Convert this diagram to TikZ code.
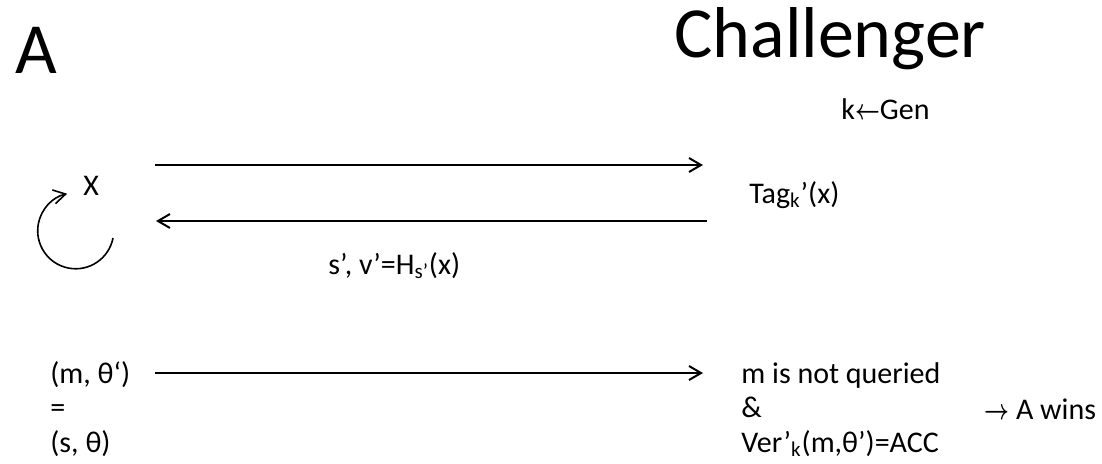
\documentclass[tikz,border=0pt]{standalone}
\usepackage{fontspec}
\usepackage{graphicx}
\setmainfont{Carlito}
\usetikzlibrary{arrows.meta, positioning}
\newcommand{\larr}{\scalebox{0.75}[1]{\boldmath$\leftarrow$}}
\newcommand{\rarr}{\scalebox{0.75}[1]{\boldmath$\rightarrow$}}

\begin{document}
\begin{tikzpicture}[
    x=0.5pt, y=-0.5pt,
    big/.style={inner sep=0pt, anchor=base west, font=\fontsize{36}{43}\selectfont},
    txt/.style={inner sep=0pt, anchor=base west, font=\fontsize{15}{17.25}\selectfont},
    msg/.style={->, line width=1pt},
    >={Straight Barb[length=6pt, width=7pt]}
]
    \useasboundingbox (0,0) rectangle (1102,463);
    % the two parties
    \node[big] (adv) at (15,73) {A};
    \node[big] (chal) at (674,57) {Challenger};
    \node[txt] (gen) at (841,119) {k\larr Gen};
    % query phase
    \node[txt] (x) at (83,195) {X};
    \node[txt] (tag) at (749,203) {Tag\textsubscript{k}’(x)};
    \node[txt] (hash) at (328,274) {s’, v’=H\textsubscript{s’}(x)};
    \coordinate (q1) at (155,165);
    \coordinate (q2) at (703,165);
    \coordinate (a1) at (707,221);
    \coordinate (a2) at (156,221);
    \coordinate (loop) at (113,238);
    \draw[msg] (q1) -- (q2);
    \draw[msg] (a1) -- (a2);
    \draw[->, line width=0.8pt] (loop) arc[start angle=-11, end angle=-257, radius=19pt];
    % forgery
    \node[txt] (forge) at (50,383) {(m, θ‘)};
    \node[txt] (eq) at ([yshift=-17.25pt]forge.base west) {=};
    \node[txt] (orig) at ([yshift=-17.25pt]eq.base west) {(s, θ)};
    \node[txt] (notq) at (741,383) {m is not queried};
    \node[txt] (amp) at ([yshift=-17.25pt]notq.base west) {\&};
    \node[txt] (ver) at ([yshift=-17.25pt]amp.base west) {Ver’\textsubscript{k}(m,θ’)=ACC};
    \node[txt] (wins) at (984,419) {\rarr{} A wins};
    \coordinate (f1) at (155,373);
    \coordinate (f2) at (703,373);
    \draw[msg] (f1) -- (f2);
\end{tikzpicture}
\end{document}
